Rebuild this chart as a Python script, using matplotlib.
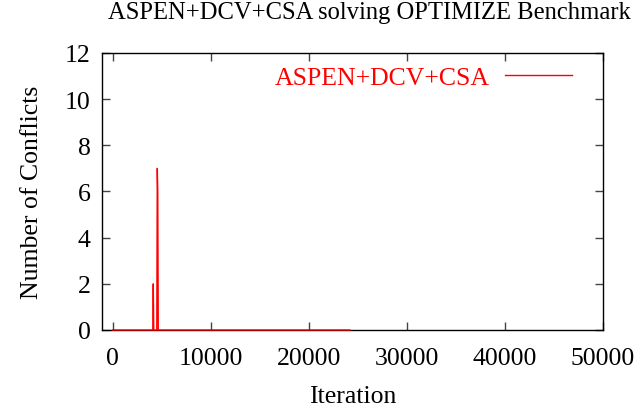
import matplotlib
matplotlib.use("Agg")
import matplotlib.pyplot as plt

# conflicts per iteration (zero everywhere except a short burst)
iterations = [0, 4080, 4130, 4180, 4490, 4540, 4590, 4640, 24200]
conflicts = [0, 0, 2, 0, 0, 7, 6, 0, 0]

xticks = [0, 10000, 20000, 30000, 40000, 50000]
yticks = [0, 2, 4, 6, 8, 10, 12]

plt.rcParams['font.family'] = ['Liberation Serif', 'DejaVu Serif']
plt.rcParams['font.size'] = 18.5

fig = plt.figure(figsize=(6.43, 4.10), dpi=100)
ax = fig.add_axes([0.1586, 0.1927, 0.7792, 0.6756])

ax.plot(iterations, conflicts, color='red', lw=1.0, label='ASPEN+DCV+CSA',
        clip_on=False, zorder=5)

ax.set_xlim(-1100, 50000)
ax.set_ylim(0, 12)
ax.set_xticks(xticks)
ax.set_yticks(yticks)
ax.tick_params(direction='in', length=6, width=1, color='#444444',
               top=True, right=True)
ax.tick_params(axis='x', pad=12)
ax.tick_params(axis='y', pad=8)
for s in ax.spines.values():
    s.set_linewidth(1)

fig.text(0.575, 0.968, 'ASPEN+DCV+CSA solving OPTIMIZE Benchmark',
         ha='center', va='center', fontsize=17.7)
ax.set_xlabel('Iteration', labelpad=12)
ax.set_ylabel('Number of Conflicts', labelpad=16)

ax.legend(loc='upper right', bbox_to_anchor=(0.984, 1.038), frameon=False,
          markerfirst=False, labelcolor='red', handlelength=2.6,
          handletextpad=0.6, fontsize=18.5)

fig.savefig('out.png', dpi=100)
